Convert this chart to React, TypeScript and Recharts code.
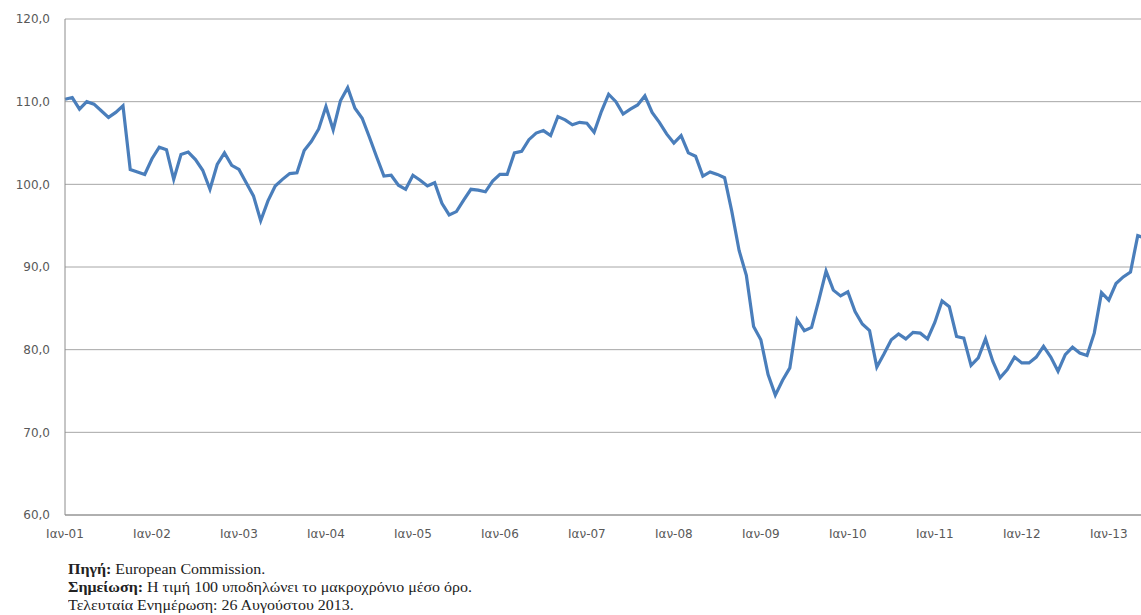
import React from 'react'
import { LineChart, Line, XAxis, YAxis, CartesianGrid } from 'recharts'

const MONTHS = ['Ιαν', 'Φεβ', 'Μαρ', 'Απρ', 'Μαϊ', 'Ιουν', 'Ιουλ', 'Αυγ', 'Σεπ', 'Οκτ', 'Νοε', 'Δεκ']
const YEARS = ['01', '02', '03', '04', '05', '06', '07', '08', '09', '10', '11', '12', '13']

// monthly index values, one array per year
const v2001 = [110.3, 110.5, 109.1, 110.0, 109.7, 108.9, 108.1, 108.7, 109.5, 101.8, 101.5, 101.2]
const v2002 = [103.1, 104.5, 104.2, 100.6, 103.6, 103.9, 103.0, 101.7, 99.4, 102.4, 103.8, 102.3]
const v2003 = [101.8, 100.2, 98.6, 95.6, 98.0, 99.8, 100.6, 101.3, 101.4, 104.1, 105.2, 106.7]
const v2004 = [109.4, 106.6, 110.1, 111.7, 109.2, 108.0, 105.7, 103.3, 101.0, 101.1, 99.9, 99.4]
const v2005 = [101.1, 100.5, 99.8, 100.2, 97.7, 96.3, 96.7, 98.1, 99.4, 99.3, 99.1, 100.4]
const v2006 = [101.2, 101.2, 103.8, 104.0, 105.4, 106.2, 106.5, 105.9, 108.2, 107.8, 107.2, 107.5]
const v2007 = [107.4, 106.3, 108.8, 110.9, 110.0, 108.5, 109.1, 109.6, 110.7, 108.7, 107.5, 106.1]
const v2008 = [105.0, 105.9, 103.8, 103.4, 101.0, 101.5, 101.2, 100.8, 96.7, 92.0, 89.0, 82.8]
const v2009 = [81.2, 77.0, 74.5, 76.3, 77.8, 83.6, 82.3, 82.7, 86.0, 89.5, 87.2, 86.5]
const v2010 = [87.0, 84.6, 83.1, 82.3, 77.9, 79.5, 81.2, 81.9, 81.3, 82.1, 82.0, 81.3]
const v2011 = [83.3, 85.9, 85.2, 81.6, 81.4, 78.1, 79.0, 81.3, 78.6, 76.6, 77.6, 79.1]
const v2012 = [78.4, 78.4, 79.1, 80.4, 79.1, 77.4, 79.4, 80.3, 79.6, 79.3, 82.0, 86.9]
const v2013 = [86.0, 88.0, 88.8, 89.4, 93.8, 93.5]

const Y_TICKS = [60, 70, 80, 90, 100, 110, 120]

const byYear = [v2001, v2002, v2003, v2004, v2005, v2006, v2007, v2008, v2009, v2010, v2011, v2012, v2013]

const data = byYear.flatMap((vals, yi) =>
	vals.map((value, mi) => ({ month: `${MONTHS[mi]}-${YEARS[yi]}`, value }))
)

const tickStyle = { fontFamily: 'DejaVu Sans, sans-serif', fontSize: 12, fill: '#595959' }

export default function App() {
	return (
		<div style={{ position: 'absolute', left: 0, top: 0, width: 1141, height: 615, overflow: 'hidden', background: '#fff' }}>
			<LineChart width={1150} height={545} data={data} margin={{ top: 19, right: 5, left: 0, bottom: 0 }}>
				<CartesianGrid vertical={false} stroke="#a6a6a6" />
				<XAxis
					dataKey="month"
					interval={11}
					height={30}
					tickLine={false}
					tickSize={0}
					tickMargin={14}
					axisLine={{ stroke: '#8c8c8c' }}
					tick={tickStyle}
				/>
				<YAxis
					domain={[60, 120]}
					ticks={Y_TICKS}
					width={65}
					tickLine={false}
					tickSize={0}
					tickMargin={15}
					axisLine={{ stroke: '#8c8c8c' }}
					tick={tickStyle}
					tickFormatter={(v: number) => v.toFixed(1).replace('.', ',')}
				/>
				<Line
					type="linear"
					dataKey="value"
					stroke="#4a7ebb"
					strokeWidth={3.2}
					dot={false}
					isAnimationActive={false}
				/>
			</LineChart>
			<div style={{ position: 'absolute', left: 68, top: 561, fontFamily: 'Liberation Serif, serif', fontSize: 14, color: '#222', lineHeight: '18px', transform: 'scaleX(1.14)', transformOrigin: 'left top', whiteSpace: 'nowrap' }}>
				<div><b>Πηγή:</b> European Commission.</div>
				<div><b>Σημείωση:</b> Η τιμή 100 υποδηλώνει το μακροχρόνιο μέσο όρο.</div>
				<div>Τελευταία Ενημέρωση: 26 Αυγούστου 2013.</div>
			</div>
		</div>
	)
}
